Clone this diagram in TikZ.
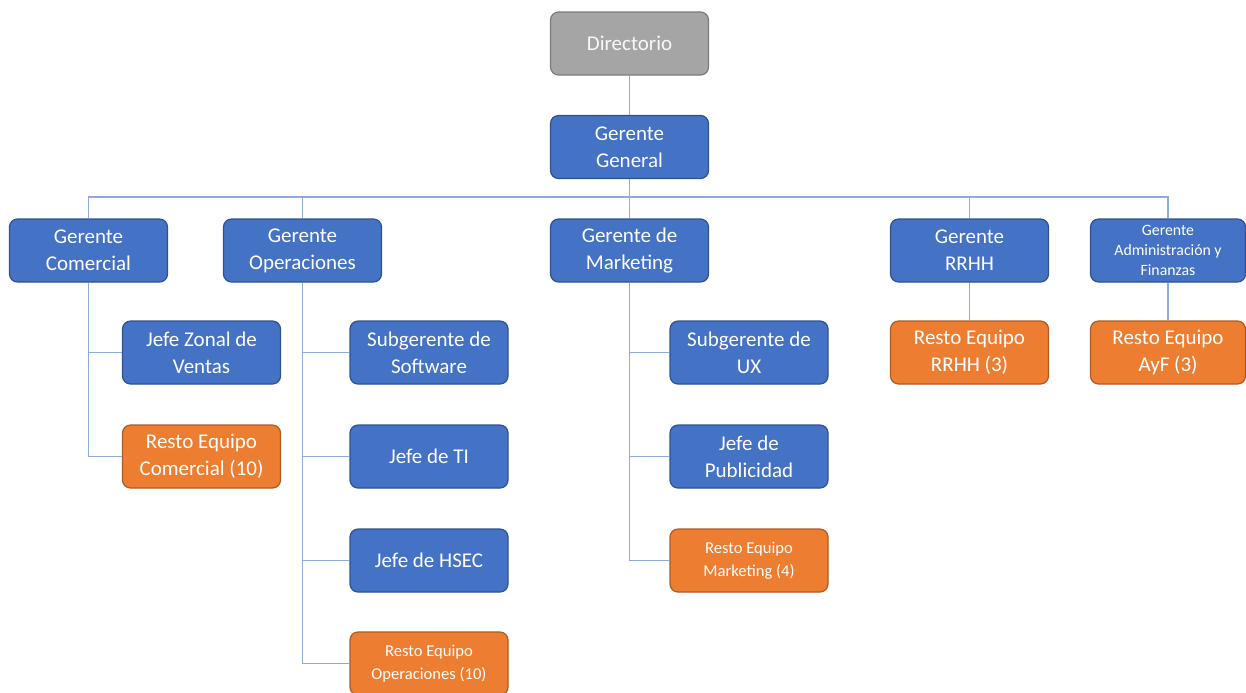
\documentclass[tikz,border=0pt]{standalone}
\usepackage{fontspec}
\setmainfont{Carlito}
\usepackage{tikz}

\definecolor{azul}{HTML}{4472C4}
\definecolor{azulborde}{HTML}{2F528F}
\definecolor{naranja}{HTML}{ED7D31}
\definecolor{naranjaborde}{HTML}{AE5A21}
\definecolor{gris}{HTML}{A5A5A5}
\definecolor{grisborde}{HTML}{7B7B7B}
\definecolor{linea}{HTML}{8FAADC}

\tikzset{
  caja/.style={rounded corners=4pt, minimum width=79pt, minimum height=31.5pt,
    inner sep=0pt, align=center, text=white, line width=0.6pt,
    font=\fontsize{10.5}{13.5}\selectfont},
  cajaazul/.style={caja, fill=azul, draw=azulborde},
  cajanaranja/.style={caja, fill=naranja, draw=naranjaborde},
  cajagris/.style={caja, fill=gris, draw=grisborde, text=white!92!gris},
  chica/.style={font=\fontsize{8.3}{11.5}\selectfont},
  minima/.style={font=\fontsize{7.9}{10}\selectfont},
  conector/.style={draw=linea, line width=0.55pt}
}

\begin{document}
\begin{tikzpicture}[x=0.5pt, y=-0.5pt]
		\useasboundingbox (0,0) rectangle (1246,692);
		% cabeza
		\node[cajagris] (dir) at (629.5,43.5) {Directorio};
		\node[cajaazul] (gg) at (629.5,147) {Gerente\\General};
		\coordinate (bus) at (629.5,197);
		
		% gerencias
		\node[cajaazul] (com) at (88.5,250.5) {Gerente\\Comercial};
		\node[cajaazul] (ope) at (302.5,250.5) {Gerente\\Operaciones};
		\node[cajaazul] (mkt) at (629.5,250.5) {Gerente de\\Marketing};
		\node[cajaazul] (rrhh) at (969.5,250.5) {Gerente\\RRHH};
		\node[cajaazul, minima, minimum width=77.5pt] (ayf) at (1168,250.5) {Gerente\\Administración y\\Finanzas};
		
		% comercial
		\node[cajaazul] (jzv) at (201.5,352.5) {Jefe Zonal de\\Ventas};
		\node[cajanaranja] (rcom) at (201.5,456.5) {Resto Equipo\\Comercial (10)};
		
		% operaciones
		\node[cajaazul] (sws) at (429,352.5) {Subgerente de\\Software};
		\node[cajaazul] (jti) at (429,456.5) {Jefe de TI};
		\node[cajaazul] (jhs) at (429,560.5) {Jefe de HSEC};
		\node[cajanaranja, chica] (rope) at (429,663.5) {Resto Equipo\\Operaciones (10)};
		
		% marketing
		\node[cajaazul] (sux) at (749,352.5) {Subgerente de\\UX};
		\node[cajaazul] (jpu) at (749,456.5) {Jefe de\\Publicidad};
		\node[cajanaranja, chica] (rmkt) at (749,560.5) {Resto Equipo\\Marketing (4)};
		
		% rrhh y ayf
		\node[cajanaranja] (rrrhh) at (969.5,352.5) {Resto Equipo\\RRHH (3)};
		\node[cajanaranja, minimum width=77.5pt] (rayf) at (1168,352.5) {Resto Equipo\\AyF (3)};
		
		% lineas
		\draw[conector] (dir) -- (gg);
		\foreach \g in {com,ope,mkt,rrhh,ayf}
		\draw[conector] (gg.south) -- (bus) -| (\g.north);
		\foreach \h in {jzv,rcom}
		\draw[conector] (com.south) |- (\h.west);
		\foreach \h in {sws,jti,jhs,rope}
		\draw[conector] (ope.south) |- (\h.west);
		\foreach \h in {sux,jpu,rmkt}
		\draw[conector] (mkt.south) |- (\h.west);
		\draw[conector] (rrhh) -- (rrrhh);
		\draw[conector] (ayf) -- (rayf);
\end{tikzpicture}
\end{document}
